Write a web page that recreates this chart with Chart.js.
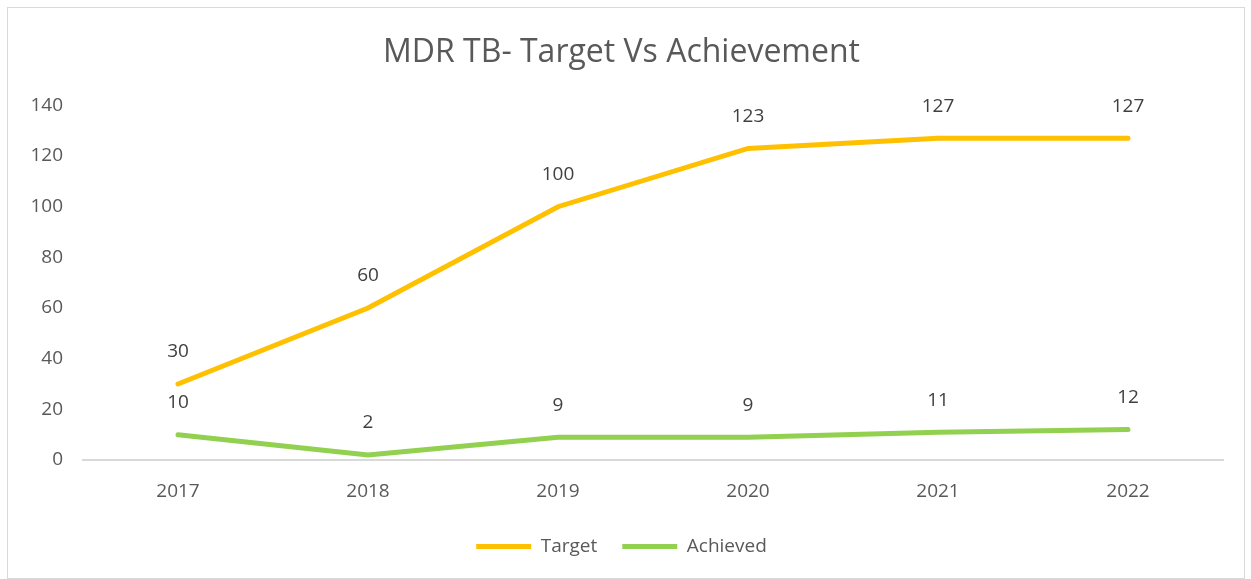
<!DOCTYPE html>
<html>
<head>
<meta charset="utf-8">
<script src="https://cdn.jsdelivr.net/npm/chart.js@4.4.1/dist/chart.umd.min.js"></script>
<style>
  html, body { margin: 0; padding: 0; background: #fff; }
  #frame {
    position: absolute; left: 7px; top: 7px;
    width: 1236px; height: 570px;
    border: 1px solid #d9d9d9;
  }
  #wrap { position: absolute; left: 0; top: 0; width: 1251px; height: 579px; }
</style>
</head>
<body>
<div id="frame"></div>
<div id="wrap"><canvas id="chart"></canvas></div>
<script>
'use strict';

// ---- data ----
const years    = ['2017', '2018', '2019', '2020', '2021', '2022'];
const target   = [30, 60, 100, 123, 127, 127];
const achieved = [10, 2, 9, 9, 11, 12];

const FONT = "'Open Sans', 'DejaVu Sans', sans-serif";
const TEXT = '#595959';

// value labels above each point (Excel-style data labels)
const pointLabels = {
  id: 'pointLabels',
  afterDatasetsDraw(chart) {
    const ctx = chart.ctx;
    ctx.save();
    ctx.font = '19px ' + FONT;
    ctx.fillStyle = '#404040';
    ctx.textAlign = 'center';
    ctx.textBaseline = 'middle';
    chart.data.datasets.forEach((ds, i) => {
      chart.getDatasetMeta(i).data.forEach((pt, j) => {
        ctx.fillText(String(ds.data[j]), pt.x, pt.y - 32);
      });
    });
    ctx.restore();
  }
};

new Chart(document.getElementById('chart'), {
  type: 'line',
  data: {
    labels: years,
    datasets: [
      {
        label: 'Target',
        data: target,
        borderColor: '#FFC000',
        backgroundColor: '#FFC000',
        borderWidth: 5,
        borderCapStyle: 'round',
        pointRadius: 0,
        pointStyle: 'line',
        tension: 0
      },
      {
        label: 'Achieved',
        data: achieved,
        borderColor: '#92D050',
        backgroundColor: '#92D050',
        borderWidth: 5,
        borderCapStyle: 'round',
        pointRadius: 0,
        pointStyle: 'line',
        tension: 0
      }
    ]
  },
  options: {
    responsive: true,
    maintainAspectRatio: false,
    animation: false,
    layout: { padding: { left: 20, right: 28, top: 0, bottom: 13 } },
    plugins: {
      title: {
        display: true,
        text: 'MDR TB- Target Vs Achievement',
        color: TEXT,
        font: { size: 32, weight: 'normal', family: FONT },
        padding: { top: 34, bottom: 33 }
      },
      legend: {
        position: 'bottom',
        labels: {
          color: TEXT,
          font: { size: 19, family: FONT },
          usePointStyle: true,
          pointStyleWidth: 55,
          boxHeight: 10,
          padding: 25
        }
      },
      tooltip: { enabled: false }
    },
    scales: {
      x: {
        offset: true,
        grid: { display: false, drawTicks: false, offset: true },
        border: { display: true, color: '#d9d9d9', width: 2 },
        ticks: { color: TEXT, font: { size: 19, family: FONT }, padding: 20 },
        afterFit(s) { s.height = 52; }
      },
      y: {
        min: 0,
        max: 140,
        ticks: { stepSize: 20, color: TEXT, font: { size: 19, family: FONT }, padding: 20 },
        grid: { display: false, drawTicks: false },
        border: { display: false },
        afterFit(s) { s.width = 63; }
      }
    }
  },
  plugins: [pointLabels]
});
</script>
</body>
</html>
